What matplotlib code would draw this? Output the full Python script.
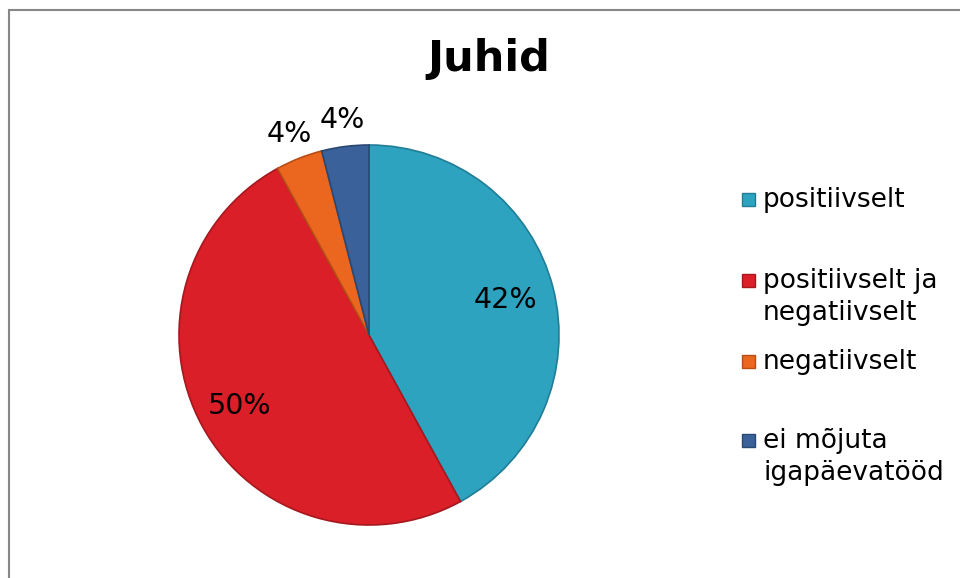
import matplotlib
matplotlib.use("Agg")
import matplotlib.pyplot as plt
from matplotlib.patches import Rectangle
import numpy as np

title = "Juhid"
categories = ["positiivselt", "positiivselt ja\nnegatiivselt", "negatiivselt", "ei mõjuta\nigapäevatööd"]
values = [42, 50, 4, 4]
colors = ["#2EA3C0", "#DA1F28", "#EB661E", "#3A6199"]
edges = ["#1F7D96", "#A5181F", "#B74E16", "#2A4872"]
label_radius = [0.74, 0.78, 1.14, 1.14]
legend_y = [199, 280, 361, 440]  # px from top, first line center

W, H = 960, 578
fig = plt.figure(figsize=(W / 100, H / 100), dpi=100)
fig.patch.set_facecolor("white")

# border
fig.patches.append(Rectangle((8.5 / W, -0.1), 1.2, (H - 9.5) / H + 0.1,
                             transform=fig.transFigure, fill=False,
                             edgecolor="#878787", linewidth=1.5))

cx, cy, r = 369, 335, 190
ax = fig.add_axes([(cx - r) / W, (H - cy - r) / H, 2 * r / W, 2 * r / H])
wedges, _ = ax.pie(values, colors=colors, startangle=90, counterclock=False,
                   wedgeprops=dict(linewidth=1.2))
for w, e in zip(wedges, edges):
    w.set_edgecolor(e)
total = sum(values)
for w, v, lr in zip(wedges, values, label_radius):
    ang = np.deg2rad((w.theta1 + w.theta2) / 2)
    ax.text(lr * np.cos(ang), lr * np.sin(ang), f"{round(100 * v / total)}%",
            ha="center", va="center", fontsize=20.5, color="black")
ax.set_xlim(-1, 1)
ax.set_ylim(-1, 1)
ax.set_aspect("equal")
ax.axis("off")

fig.text(489 / W, 1 - 59 / H, title, ha="center", va="center",
         fontsize=31, fontweight="bold")

for lab, col, e, ly in zip(categories, colors, edges, legend_y):
    fig.patches.append(Rectangle((742 / W, 1 - (ly + 6.5) / H), 13 / W, 13 / H,
                                 transform=fig.transFigure, facecolor=col,
                                 edgecolor=e, linewidth=1))
    fig.text(763 / W, 1 - (ly - 12) / H, lab, ha="left", va="top",
             fontsize=19, linespacing=1.28)

fig.savefig("out.png", dpi=100)
